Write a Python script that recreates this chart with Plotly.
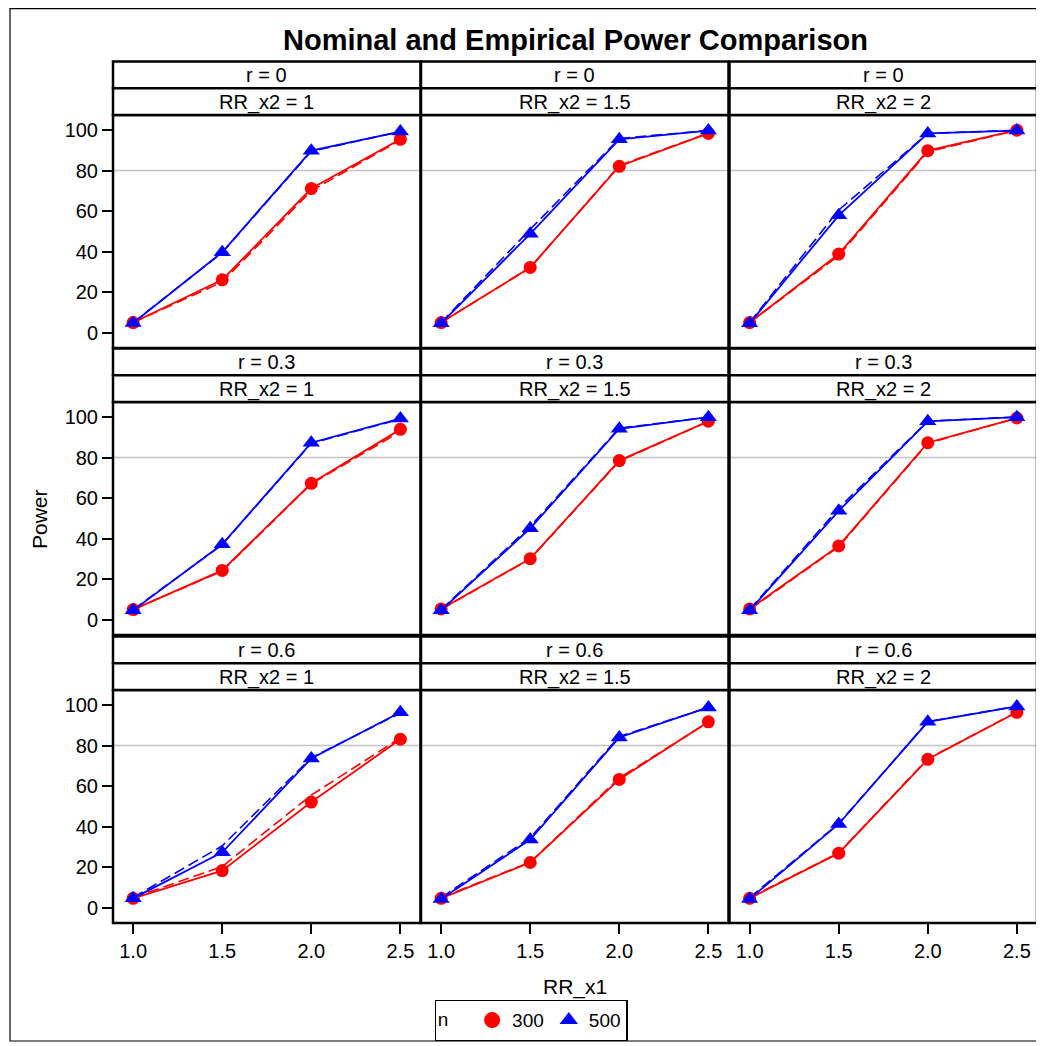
import plotly.graph_objects as go

# ---------------- data ----------------
RR_x1 = [1.0, 1.5, 2.0, 2.5]
x_ticktext = ["1.0", "1.5", "2.0", "2.5"]
r_values = ["0", "0.3", "0.6"]
RR_x2_values = ["1", "1.5", "2"]
n_labels = ["300", "500"]

# empirical power, panels in order (r, RR_x2)
emp_300 = [
    [5.0, 26.1, 71.1, 95.4],
    [5.0, 32.2, 82.1, 98.3],
    [5.0, 38.8, 89.8, 99.9],
    [5.0, 24.3, 67.3, 93.9],
    [5.3, 30.1, 78.5, 97.9],
    [5.3, 36.4, 87.3, 99.5],
    [4.6, 18.3, 52.1, 83.1],
    [4.6, 22.3, 63.3, 91.7],
    [4.6, 26.9, 73.2, 96.4],
]
emp_500 = [
    [4.8, 39.7, 89.8, 99.2],
    [4.6, 48.8, 95.4, 99.7],
    [4.6, 57.9, 98.3, 99.7],
    [4.6, 37.2, 87.3, 99.2],
    [4.6, 45.1, 94.2, 99.9],
    [4.6, 53.7, 97.9, 99.9],
    [4.6, 27.3, 73.6, 96.4],
    [4.3, 33.6, 84.0, 98.8],
    [4.3, 41.3, 91.7, 99.3],
]
# nominal power (dashed)
nom_300 = [
    [5.0, 25.0, 70.0, 95.0],
    [5.0, 32.0, 82.5, 98.5],
    [5.0, 38.0, 89.3, 99.8],
    [5.0, 24.0, 67.0, 92.8],
    [5.0, 30.0, 78.2, 97.8],
    [5.0, 36.0, 87.0, 99.5],
    [5.0, 20.3, 55.5, 83.8],
    [5.0, 22.5, 64.0, 91.5],
    [5.0, 27.0, 73.5, 96.5],
]
nom_500 = [
    [5.0, 39.5, 89.5, 99.2],
    [5.0, 51.0, 95.8, 99.8],
    [5.0, 60.5, 98.3, 99.9],
    [5.0, 37.0, 87.0, 99.0],
    [5.0, 46.0, 94.5, 99.9],
    [5.0, 55.0, 98.0, 100.0],
    [5.0, 30.5, 74.0, 96.0],
    [5.0, 34.5, 84.5, 98.8],
    [5.0, 41.5, 91.8, 99.4],
]
y_ticks = [0, 20, 40, 60, 80, 100]
ref_line = 80

# ---------------- styling / layout ----------------
OFF = 8                      # page body margin of the html page
W, H = 1044 - OFF, 1046 - OFF
RED = "#FF0000"
BLUE = "#0000FF"
FONT = "Liberation Sans, Arial, sans-serif"

col_left = [113, 421, 729.5]
col_w = 307.5
row_top = [115, 402, 690]
row_h = 233
strip_h = 26.7


def px(x):
    return (x - OFF) / W


def py(y):
    return 1 - (y - OFF) / H


fig = go.Figure()
shapes = []
annotations = []

for k in range(9):
    row, col = divmod(k, 3)
    ax = "" if k == 0 else str(k + 1)
    xa, ya = "x" + ax, "y" + ax

    x0, x1 = col_left[col], col_left[col] + col_w
    y0, y1 = row_top[row], row_top[row] + row_h

    fig.update_layout({
        "xaxis" + ax: dict(
            domain=[px(x0), px(x1)], range=[0.887, 2.613], anchor=ya,
            tickvals=RR_x1, ticktext=x_ticktext,
            showticklabels=(row == 2), ticks=("outside" if row == 2 else ""),
            ticklen=10, tickwidth=1.5, tickcolor="black",
            showgrid=False, zeroline=False, showline=False,
            tickfont=dict(family=FONT, size=20, color="black"),
        ),
        "yaxis" + ax: dict(
            domain=[py(y1), py(y0)], range=[-7.55, 107.4], anchor=xa,
            tickvals=y_ticks,
            showticklabels=(col == 0), ticks=("outside" if col == 0 else ""),
            ticklen=10, tickwidth=1.5, tickcolor="black",
            showgrid=False, zeroline=False, showline=False,
            tickfont=dict(family=FONT, size=20, color="black"),
        ),
    })

    # reference line at 80
    shapes.append(dict(type="line", xref=xa + " domain", yref=ya,
                       x0=0, x1=1, y0=ref_line, y1=ref_line,
                       line=dict(color="#C4C4C4", width=1.5), layer="below"))
    # panel border
    shapes.append(dict(type="rect", xref="paper", yref="paper",
                       x0=px(x0), x1=px(x1), y0=py(y1), y1=py(y0),
                       line=dict(color="black", width=2.5), layer="above"))
    # strips (r on top, RR_x2 below)
    for s, label in enumerate([f"r = {r_values[row]}", f"RR_x2 = {RR_x2_values[col]}"]):
        top = y0 - (2 - s) * strip_h
        bot = top + strip_h
        shapes.append(dict(type="rect", xref="paper", yref="paper",
                           x0=px(x0), x1=px(x1), y0=py(bot), y1=py(top),
                           fillcolor="white",
                           line=dict(color="black", width=2.5), layer="above"))
        annotations.append(dict(xref="paper", yref="paper",
                                x=px((x0 + x1) / 2), y=py((top + bot) / 2 + 0.5),
                                text=label, showarrow=False,
                                font=dict(family=FONT, size=20, color="black"),
                                xanchor="center", yanchor="middle"))

    # nominal (dashed)
    fig.add_trace(go.Scatter(x=RR_x1, y=nom_300[k], xaxis=xa, yaxis=ya,
                             mode="lines", showlegend=False, hoverinfo="skip",
                             line=dict(color=RED, width=1.6, dash="11px,5px")))
    fig.add_trace(go.Scatter(x=RR_x1, y=nom_500[k], xaxis=xa, yaxis=ya,
                             mode="lines", showlegend=False, hoverinfo="skip",
                             line=dict(color=BLUE, width=1.6, dash="11px,5px")))
    # empirical (solid + markers)
    fig.add_trace(go.Scatter(x=RR_x1, y=emp_300[k], xaxis=xa, yaxis=ya,
                             mode="lines+markers", showlegend=False,
                             line=dict(color=RED, width=1.8),
                             marker=dict(symbol="circle", size=13, color=RED)))
    fig.add_trace(go.Scatter(x=RR_x1, y=emp_500[k], xaxis=xa, yaxis=ya,
                             mode="lines+markers", showlegend=False,
                             line=dict(color=BLUE, width=1.8),
                             marker=dict(symbol="triangle-up", size=15, color=BLUE)))

# legend-only traces
fig.add_trace(go.Scatter(x=[None], y=[None], mode="markers", name=n_labels[0],
                         marker=dict(symbol="circle", size=16, color=RED)))
fig.add_trace(go.Scatter(x=[None], y=[None], mode="markers", name=n_labels[1],
                         marker=dict(symbol="triangle-up", size=16, color=BLUE)))

# title and axis titles
annotations.append(dict(xref="paper", yref="paper", x=px(575), y=py(40),
                        text="<b>Nominal and Empirical Power Comparison</b>",
                        showarrow=False, xanchor="center", yanchor="middle",
                        font=dict(family=FONT, size=29, color="black")))
annotations.append(dict(xref="paper", yref="paper", x=px(574.5), y=py(987),
                        text="RR_x1", showarrow=False,
                        xanchor="center", yanchor="middle",
                        font=dict(family=FONT, size=21, color="black")))
annotations.append(dict(xref="paper", yref="paper", x=px(40), y=py(519),
                        text="Power", showarrow=False, textangle=-90,
                        xanchor="center", yanchor="middle",
                        font=dict(family=FONT, size=21, color="black")))

# outer frame
shapes.append(dict(type="rect", xref="paper", yref="paper",
                   x0=px(10), x1=px(1040), y0=py(1041), y1=py(8.6),
                   line=dict(color="black", width=1.2)))

fig.update_layout(
    width=W, height=H,
    margin=dict(l=0, r=0, t=0, b=0),
    paper_bgcolor="white", plot_bgcolor="white",
    shapes=shapes, annotations=annotations,
    showlegend=True,
    legend=dict(orientation="h", x=px(531), y=py(1000),
                xanchor="center", yanchor="top",
                title=dict(text="n   ", side="left",
                           font=dict(family=FONT, size=19, color="black")),
                font=dict(family=FONT, size=19, color="black"),
                bordercolor="black", borderwidth=1.2, bgcolor="white",
                itemwidth=30, tracegroupgap=0, valign="middle"),
    font=dict(family=FONT, color="black"),
)

fig.write_html("out.html")
